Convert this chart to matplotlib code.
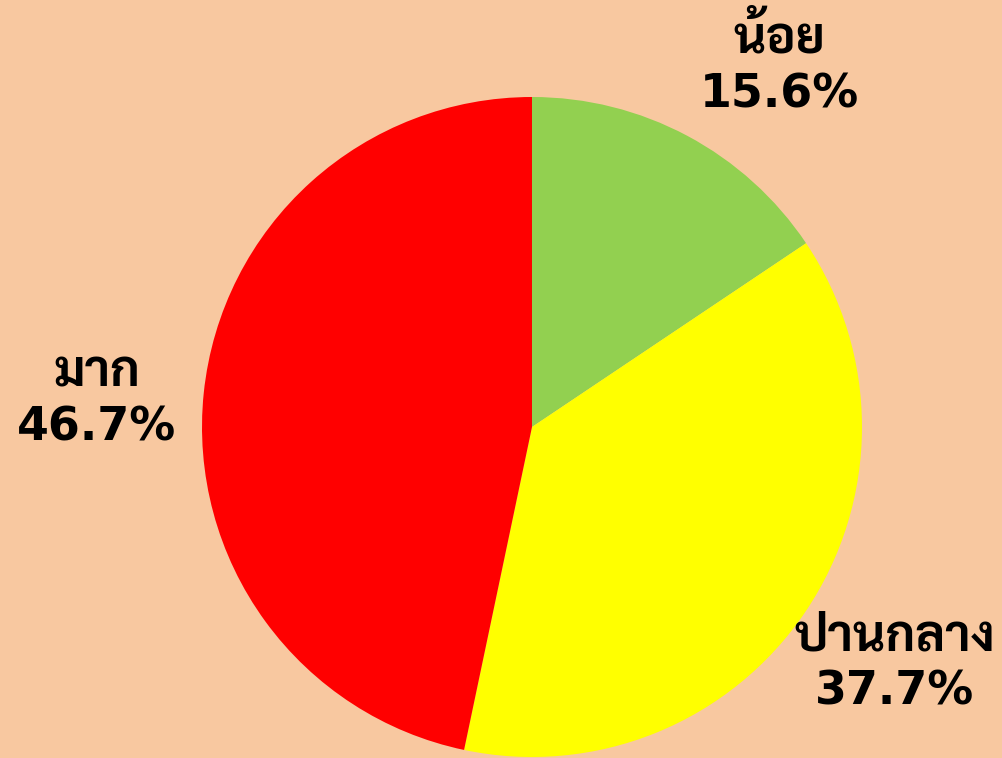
import matplotlib
matplotlib.use('Agg')
import numpy as np
import matplotlib.pyplot as plt

# data
labels = ['น้อย', 'ปานกลาง', 'มาก']
shares = [15.6, 37.7, 46.7]
colors = ['#92D050', '#FFFF00', '#FF0000']

# label centres (in pie radii) for the outside-end labels
label_xy = [(0.75, 1.10), (1.10, -0.71), (-1.32, 0.09)]

bg = '#F8C8A0'
fig = plt.figure(figsize=(10.02, 7.58), dpi=100, facecolor=bg)
ax = fig.add_axes([0, 0, 1, 1])
ax.set_facecolor(bg)

wedges, _ = ax.pie(shares, colors=colors, startangle=90, counterclock=False,
                   radius=1.0, center=(0, 0), wedgeprops=dict(linewidth=0))

for lab, val, (x, y) in zip(labels, shares, label_xy):
    # percentage line
    ax.annotate(f'{val:.1f}%', (x, y), xytext=(0, -22), textcoords='offset points',
                ha='center', va='center', fontsize=33, fontweight='bold',
                family='DejaVu Sans', color='black')
    # category line (Thai)
    ax.annotate(lab, (x, y), xytext=(0, 17), textcoords='offset points',
                ha='center', va='center', fontsize=36, fontweight='bold',
                family=['Sarabun', 'Loma'], color='black')

ax.set_xlim(-532 / 330, (1002 - 532) / 330)
ax.set_ylim((427 - 758) / 330, 427 / 330)
ax.set_aspect('auto')
ax.axis('off')

fig.savefig('out.png', dpi=100, facecolor=bg)
